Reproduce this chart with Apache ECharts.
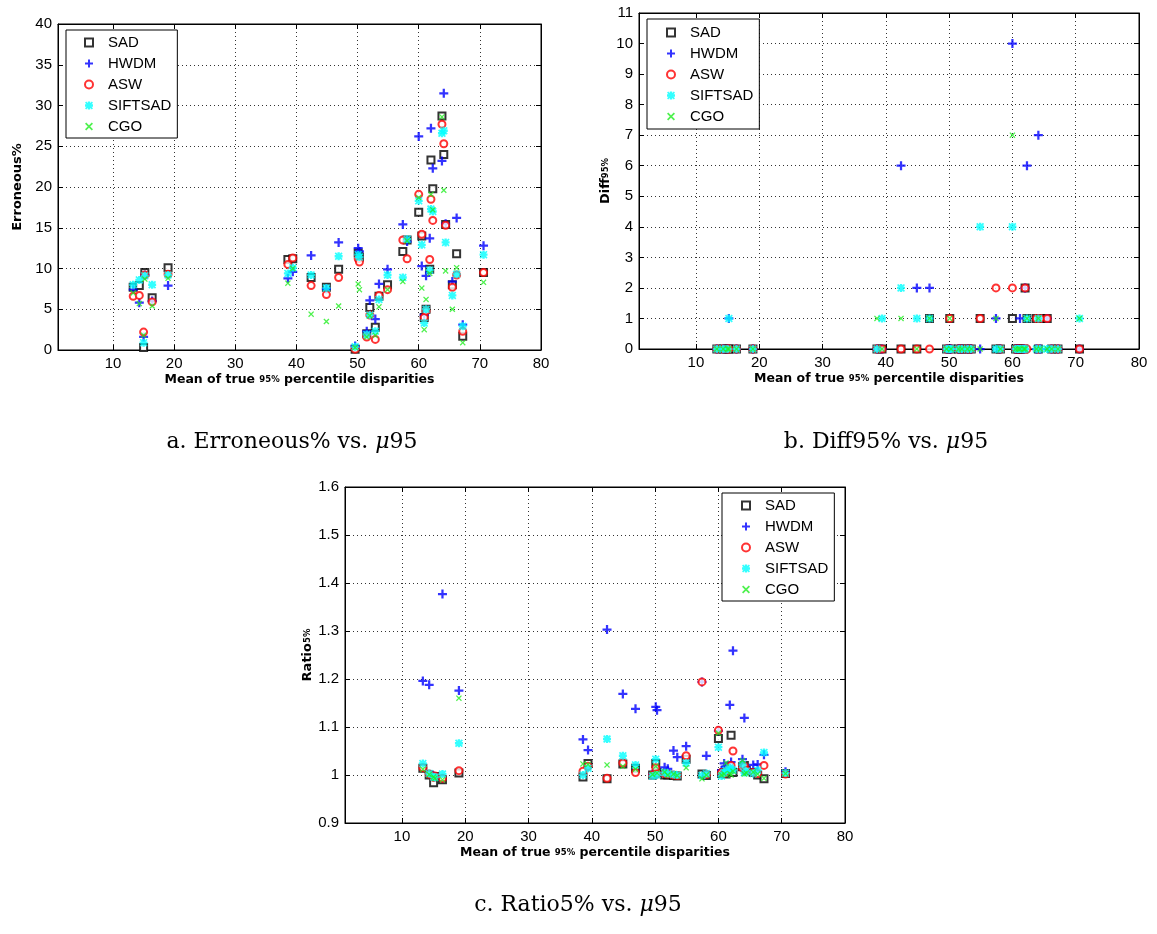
<!DOCTYPE html>
<html>
<head>
<meta charset="utf-8">
<script src="https://cdn.jsdelivr.net/npm/echarts@6/dist/echarts.min.js"></script>
<style>
  html, body { margin: 0; padding: 0; background: #fff; }
  #chart { width: 1157px; height: 934px; }
</style>
</head>
<body>
<div id="chart"></div>
<script>
// mean of true 95% percentile disparities, one per dataset
const mu95 = [13.3, 14.3, 15.0, 15.2, 16.4, 19.0, 38.6, 39.4, 42.4, 44.9, 46.9, 49.6, 50.1, 50.3, 51.5, 52.0, 52.9, 53.5,
  54.9, 57.4, 58.1, 60.0, 60.5, 60.9, 61.2, 61.8, 62.0, 62.3, 63.8, 64.1, 64.4, 65.5, 66.2, 67.2, 70.6];

const methods = ["SAD", "HWDM", "ASW", "SIFTSAD", "CGO"];

// a. Erroneous%
const errSAD = [7.7, 7.9, 0.3, 9.5, 6.4, 10.1, 11.1, 11.2, 8.9, 7.7, 9.9, 0.1, 11.9, 11.4, 2.0, 5.2, 2.8, 6.6, 8.0, 12.1, 13.5, 16.9, 14.0, 4.0, 5.0, 9.9, 23.3, 19.8, 28.7, 24.0, 15.4, 8.0, 11.8, 1.7, 9.5];
const errHWDM = [7.4, 5.8, 1.6, 9.2, 6.0, 7.9, 8.8, 9.6, 11.6, 7.5, 13.2, 0.5, 12.5, 12.1, 2.3, 6.1, 3.8, 8.1, 9.9, 15.4, 13.3, 26.2, 10.3, 4.3, 9.1, 13.7, 27.2, 22.3, 23.2, 31.5, 15.5, 8.4, 16.2, 3.1, 12.8];
const errASW = [6.6, 6.7, 2.2, 9.2, 5.9, 9.3, 10.5, 11.3, 7.9, 6.8, 8.9, 0.1, 11.2, 10.8, 1.6, 4.3, 1.3, 6.7, 7.4, 13.5, 11.2, 19.1, 14.2, 4.0, 4.8, 11.1, 18.5, 15.9, 27.7, 25.3, 15.3, 7.7, 9.2, 2.3, 9.5];
const errSIFT = [8.0, 8.6, 0.9, 9.1, 8.0, 9.2, 9.4, 10.1, 9.2, 7.6, 11.5, 0.4, 11.7, 11.4, 1.9, 4.3, 2.3, 6.2, 9.2, 8.9, 13.6, 18.3, 12.9, 3.3, 5.0, 9.8, 17.3, 17.0, 26.6, 26.9, 13.2, 6.7, 9.3, 2.9, 11.7];
const errCGO = [7.0, 5.7, 1.8, 8.7, 5.4, 8.8, 8.2, 10.0, 4.4, 3.5, 5.4, 0.3, 8.1, 7.4, 1.6, 4.2, 1.8, 5.3, 7.4, 8.4, 13.4, 18.7, 7.6, 2.5, 6.2, 9.4, 19.1, 17.2, 28.6, 19.6, 9.7, 5.0, 10.1, 0.9, 8.3];

// b. Diff95%
const diffSAD = [0, 0, 0, 0, 0, 0, 0, 0, 0, 0, 1, 0, 1, 0, 0, 0, 0, 0, 1, 0, 0, 1, 0, 0, 0, 0, 2, 1, 1, 0, 1, 1, 0, 0, 0];
const diffHWDM = [0, 0, 0, 1, 0, 0, 0, 0, 6, 2, 2, 0, 0, 0, 0, 0, 0, 0, 0, 1, 0, 10, 0, 0, 1, 0, 2, 6, 0, 7, 0, 1, 0, 0, 0];
const diffASW = [0, 0, 0, 0, 0, 0, 0, 0, 0, 0, 0, 0, 1, 0, 0, 0, 0, 0, 1, 2, 0, 2, 0, 0, 0, 0, 2, 0, 1, 0, 1, 1, 0, 0, 0];
const diffSIFT = [0, 0, 0, 1, 0, 0, 0, 1, 2, 1, 1, 0, 0, 0, 0, 0, 0, 0, 4, 0, 0, 4, 0, 0, 0, 0, 0, 1, 0, 1, 0, 0, 0, 0, 1];
const diffCGO = [0, 0, 0, 0, 0, 0, 1, 0, 1, 0, 1, 0, 1, 0, 0, 0, 0, 0, 0, 1, 0, 7, 0, 0, 0, 0, 0, 1, 0, 1, 0, 0, 0, 0, 1];

// c. Ratio5%
const ratSAD = [1.014, 1.000, 0.984, 0.997, 0.990, 1.004, 0.996, 1.024, 0.992, 1.023, 1.014, 1.000, 1.024, 1.005, 1.000, 1.000, 0.999, 0.998, 1.033, 1.002, 0.999, 1.076, 1.003, 1.005, 1.002, 1.006, 1.083, 1.005, 1.017, 1.020, 1.010, 1.005, 1.000, 0.992, 1.003];
const ratHWDM = [1.196, 1.188, 0.998, 0.997, 1.377, 1.176, 1.074, 1.052, 1.303, 1.169, 1.138, 1.002, 1.142, 1.135, 1.016, 1.013, 1.051, 1.037, 1.060, 1.194, 1.040, 1.092, 1.010, 1.024, 1.018, 1.146, 1.027, 1.259, 1.033, 1.119, 1.015, 1.021, 1.022, 1.042, 1.007];
const ratASW = [1.015, 1.002, 0.995, 0.998, 0.993, 1.009, 1.008, 1.018, 0.993, 1.025, 1.005, 1.000, 1.015, 1.002, 1.003, 1.002, 1.000, 0.999, 1.040, 1.194, 1.001, 1.093, 1.005, 1.003, 1.008, 1.012, 1.020, 1.050, 1.015, 1.018, 1.010, 1.005, 1.003, 1.020, 1.002];
const ratSIFT = [1.024, 1.003, 0.996, 0.995, 1.002, 1.066, 1.000, 1.014, 1.075, 1.040, 1.021, 0.998, 1.033, 1.000, 1.005, 1.003, 1.001, 1.000, 1.025, 0.999, 1.003, 1.058, 0.998, 1.005, 1.010, 1.015, 1.012, 1.010, 1.022, 1.005, 1.008, 1.003, 1.010, 1.047, 1.004];
const ratCGO = [1.012, 1.001, 0.996, 0.993, 0.990, 1.160, 1.023, 1.022, 1.021, 1.018, 1.012, 1.001, 1.018, 1.004, 1.006, 1.000, 1.002, 0.999, 1.015, 0.992, 1.000, 1.087, 1.000, 1.002, 1.025, 1.003, 1.000, 1.008, 1.030, 1.002, 1.004, 1.006, 1.002, 0.993, 1.003];

const captions = ["a. Erroneous% vs. ", "b. Diff95% vs. ", "c. Ratio5% vs. "];

// matlab style markers
const plusPath = "path://M3.75,0H6.25V3.75H10V6.25H6.25V10H3.75V6.25H0V3.75H3.75Z";
const crossPath = "path://M0,1.5L1.5,0L5,3.5L8.5,0L10,1.5L6.5,5L10,8.5L8.5,10L5,6.5L1.5,10L0,8.5L3.5,5Z";
const starPath = "path://M3.5,0H6.5V3.5H10V6.5H6.5V10H3.5V6.5H0V3.5H3.5Z M1.5,0L5,3.5L8.5,0L10,1.5L6.5,5L10,8.5L8.5,10L5,6.5L1.5,10L0,8.5L3.5,5L0,1.5Z";

const marks = {
  SAD: { symbol: "emptyRect", symbolSize: 7, itemStyle: { color: "#000", borderWidth: 1.4 } },
  HWDM: { symbol: plusPath, symbolSize: 9, itemStyle: { color: "#0000ff" } },
  ASW: { symbol: "emptyCircle", symbolSize: 7, itemStyle: { color: "#ff0000", borderWidth: 1.2 } },
  SIFTSAD: { symbol: starPath, symbolSize: 8, itemStyle: { color: "#00ffff" } },
  CGO: { symbol: crossPath, symbolSize: 6, itemStyle: { color: "#22ee22" } },
};

const values = [
  [errSAD, errHWDM, errASW, errSIFT, errCGO],
  [diffSAD, diffHWDM, diffASW, diffSIFT, diffCGO],
  [ratSAD, ratHWDM, ratASW, ratSIFT, ratCGO],
];

const grids = [
  { left: 58, top: 24, width: 483, height: 326, show: true, borderColor: "#000", borderWidth: 1 },
  { left: 639, top: 13, width: 500, height: 336, show: true, borderColor: "#000", borderWidth: 1 },
  { left: 345, top: 487, width: 500, height: 336, show: true, borderColor: "#000", borderWidth: 1 },
];

const yRanges = [
  { min: 0, max: 40, interval: 5 },
  { min: 0, max: 11, interval: 1 },
  { min: 0.9, max: 1.6, interval: 0.1 },
];
const yNames = ["Erroneous%", "Diff{s|95%}", "Ratio{s|5%}"];
const yGaps = [34, 21, 30];

const tickFont = { fontFamily: "Liberation Sans", fontSize: 15, color: "#000" };
const nameFont = { fontFamily: "DejaVu Sans", fontWeight: "bold", fontSize: 12.5, color: "#000" };
const subFont = { s: { fontFamily: "DejaVu Sans", fontSize: 8.5, color: "#000" } };
const gridLine = { show: true, lineStyle: { type: [1, 3], color: "#333", width: 1 } };

const xAxis = [];
const yAxis = [];
for (let g = 0; g < 3; g++) {
  xAxis.push({
    gridIndex: g, type: "value", min: 1, max: 80, splitNumber: 8,
    name: "Mean of true {s|95%} percentile disparities",
    nameLocation: "middle", nameGap: 23,
    nameTextStyle: Object.assign({ rich: subFont }, nameFont),
    axisLine: { onZero: false, lineStyle: { color: "#000" } },
    axisTick: { inside: true, length: 5, lineStyle: { color: "#000" } },
    axisLabel: Object.assign({ showMinLabel: false, margin: 6 }, tickFont),
    splitLine: gridLine,
  });
  yAxis.push(Object.assign({
    gridIndex: g, type: "value",
    name: yNames[g], nameLocation: "middle", nameRotate: 90, nameGap: yGaps[g],
    nameTextStyle: Object.assign({ rich: subFont }, nameFont, { fontSize: 13 }),
    axisLine: { onZero: false, lineStyle: { color: "#000" } },
    axisTick: { inside: true, length: 5, lineStyle: { color: "#000" } },
    axisLabel: Object.assign({ margin: 6 }, tickFont),
    splitLine: gridLine,
  }, yRanges[g]));
}
// ticks on the top and right sides of each box
for (let g = 0; g < 3; g++) {
  xAxis.push({
    gridIndex: g, type: "value", min: 1, max: 80, splitNumber: 8, position: "top",
    axisLine: { onZero: false, lineStyle: { color: "#000" } },
    axisTick: { inside: true, length: 5, lineStyle: { color: "#000" } },
    axisLabel: { show: false }, splitLine: { show: false },
  });
  yAxis.push(Object.assign({
    gridIndex: g, type: "value", position: "right",
    axisLine: { onZero: false, lineStyle: { color: "#000" } },
    axisTick: { inside: true, length: 5, lineStyle: { color: "#000" } },
    axisLabel: { show: false }, splitLine: { show: false },
  }, yRanges[g]));
}

const series = [];
for (let g = 0; g < 3; g++) {
  methods.forEach((m, k) => {
    series.push(Object.assign({
      type: "scatter", name: m, xAxisIndex: g, yAxisIndex: g,
      data: mu95.map((x, i) => [x, values[g][k][i]]),
      z: 2 + k, animation: false,
    }, marks[m]));
  });
}

const legendBase = {
  orient: "vertical", data: methods, itemWidth: 8, itemHeight: 8, itemGap: 6,
  borderColor: "#000", borderWidth: 1, borderRadius: 0, backgroundColor: "#fff",
  textStyle: { fontFamily: "Liberation Sans", fontSize: 15, color: "#000", lineHeight: 14.5, padding: [0, 0, 0, 10] },
  selectedMode: false,
};
const legend = [
  Object.assign({ left: 66, top: 30, padding: [5, 6, 4, 18] }, legendBase),
  Object.assign({ left: 647, top: 19, padding: [6, 6, 5, 19] }, legendBase),
  Object.assign({ left: 722, top: 493, padding: [5, 6, 4, 19] }, legendBase),
];

const capRich = {
  n: { fontFamily: "DejaVu Serif", fontSize: 22, color: "#000" },
  m: { fontFamily: "DejaVu Serif", fontStyle: "italic", fontSize: 22, color: "#000" },
};
const capPos = [[292, 442], [886, 442], [578, 905]];
const graphic = captions.map((c, i) => ({
  type: "text", x: capPos[i][0], y: capPos[i][1],
  style: { text: "{n|" + c + "}{m|\u03bc}{n|95}", rich: capRich, align: "center", verticalAlign: "middle" },
}));

const chart = echarts.init(document.getElementById("chart"), null, { renderer: "canvas" });
chart.setOption({
  animation: false,
  grid: grids,
  xAxis: xAxis,
  yAxis: yAxis,
  legend: legend,
  series: series,
  graphic: graphic,
});
</script>
</body>
</html>
